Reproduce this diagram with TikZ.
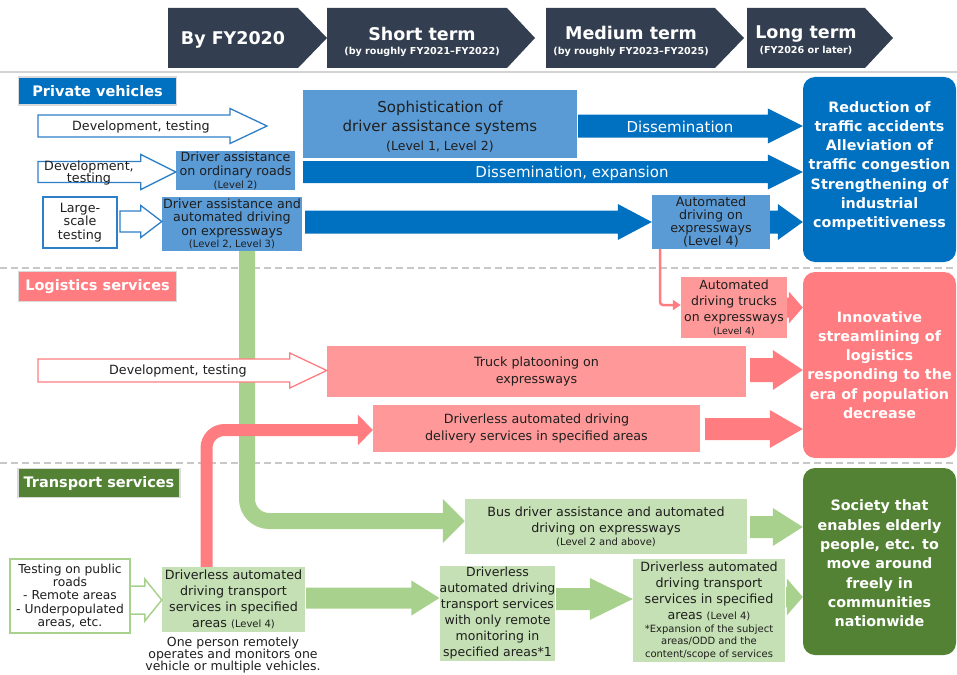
\documentclass[tikz,border=0pt]{standalone}
\usepackage{fontspec}
\setmainfont{DejaVu Sans}
\usetikzlibrary{calc,arrows.meta}

\definecolor{navy}{HTML}{333F50}
\definecolor{pvdark}{HTML}{0070C0}
\definecolor{pvmid}{HTML}{5B9BD5}
\definecolor{pvedge}{HTML}{2E7FC8}
\definecolor{lgdark}{HTML}{FF7C80}
\definecolor{lgmid}{HTML}{FF9999}
\definecolor{trdark}{HTML}{548235}
\definecolor{trmid}{HTML}{A9D18E}
\definecolor{trlight}{HTML}{C5E0B4}
\definecolor{ink}{HTML}{1E1E1E}
\definecolor{rulegray}{HTML}{C8C8C8}

\newcommand\fsz[2]{\fontsize{#1}{#2}\selectfont}

% horizontal block arrow: style, tail point, tip point (its x only),
% half body height, half head height, head length
\newcommand\blockarr[6]{%
  \path[#1] let \p1=(#2), \p2=(#3) in
    (\x1,\y1+#4pt) -- (\x2-#6pt,\y1+#4pt) -- (\x2-#6pt,\y1+#5pt) -- (\x2,\y1)
    -- (\x2-#6pt,\y1-#5pt) -- (\x2-#6pt,\y1-#4pt) -- (\x1,\y1-#4pt) -- cycle;}

\begin{document}
\begin{tikzpicture}[x=1pt,y=-1pt,
  hollowpv/.style={fill=white, draw=pvedge, line width=1.3pt},
  hollowlg/.style={fill=white, draw=lgdark, line width=1.3pt},
  hollowtr/.style={fill=white, draw=trmid, line width=1.5pt},
  solidpv/.style={fill=pvdark},
  solidlg/.style={fill=lgdark},
  solidtr/.style={fill=trmid},
  box/.style={rectangle, inner sep=0pt, align=center, text=ink},
  pvbox/.style={box, fill=pvmid},
  lgbox/.style={box, fill=lgmid},
  trbox/.style={box, fill=trlight},
  goal/.style={rectangle, rounded corners=12pt, inner sep=0pt},
  goaltext/.style={inner sep=0pt, align=center, text=white, font={\bfseries\fsz{14.3}{19.3}}},
  tag/.style={rectangle, inner sep=0pt, text=white, font={\bfseries\fsz{14.5}{16}},
    draw=rulegray!70, line width=1.5pt},
  phase/.style={text=white, anchor=base, inner sep=0pt, font={\bfseries\fsz{17.5}{20}}},
  phasesub/.style={text=white, anchor=base, inner sep=0pt, font={\bfseries\fsz{9.6}{11}}},
  sep/.style={draw=rulegray, line width=2.5pt, dash pattern=on 7pt off 4pt},
  arrtext/.style={text=ink, font={\fsz{12.7}{13.5}}, align=center, inner sep=0pt},
]
\useasboundingbox (0,0) rectangle (957,674);

% ---- timeline header ----
\fill[navy] (168,8) -- (298,8) -- (327,38) -- (298,68) -- (168,68) -- cycle;
\fill[navy] (327,8) -- (507,8) -- (535,38) -- (507,68) -- (327,68) -- cycle;
\fill[navy] (546,8) -- (715,8) -- (744,38) -- (715,68) -- (546,68) -- cycle;
\fill[navy] (747,8) -- (865,8) -- (893,38) -- (865,68) -- (747,68) -- cycle;
\node[phase] (h1) at (233,45) {By FY2020};
\node[phase] (h2) at (422,40.5) {Short term};
\node[phasesub] (h2s) at (422,55) {(by roughly FY2021–FY2022)};
\node[phase] (h3) at (631,40) {Medium term};
\node[phasesub] (h3s) at (631,55) {(by roughly FY2023–FY2025)};
\node[phase] (h4) at (806,39) {Long term};
\node[phasesub] (h4s) at (806,54) {(FY2026 or later)};
\draw[rulegray!80, line width=2.5pt] (0,72) -- (957,72);

% ---- section separators ----
\draw[sep] (0,268) -- (957,268);
\draw[sep] (0,463) -- (957,463);

% ---- goal boxes ----
\node[goal, fill=pvdark, minimum width=153pt, minimum height=185pt] (goalpv) at (879.5,169.5) {};
\node[goaltext] (goalpvtxt) at (879.5,166)
  {Reduction of\\traffic accidents\\Alleviation of\\traffic congestion\\Strengthening of\\industrial\\competitiveness};
\node[goal, fill=lgdark, minimum width=153pt, minimum height=186pt] (goallg) at (879.5,365) {};
\node[goaltext] (goallgtxt) at (879.5,365)
  {Innovative\\streamlining of\\logistics\\responding to the\\era of population\\decrease};
\node[goal, fill=trdark, minimum width=153pt, minimum height=187pt] (goaltr) at (879.5,561.5) {};
\node[goaltext] (goaltrtxt) at (879.5,563.5)
  {Society that\\enables elderly\\people, etc. to\\move around\\freely in\\communities\\nationwide};

% ---- section tags ----
\node[tag, fill=pvdark, minimum width=158pt, minimum height=28pt] (tagpv) at (97.5,91) {Private vehicles};
\node[tag, fill=lgdark, minimum width=158pt, minimum height=30pt] (taglg) at (97.5,286.5) {Logistics services};
\node[tag, fill=trdark, minimum width=162pt, minimum height=29pt] (tagtr) at (99,483) {Transport services};

% ---- boxes ----
\node[pvbox, minimum width=274pt, minimum height=68pt] (sophist) at (440,124) {};
\node[box, font={\fsz{15}{19}}] (sophisttxt) at (440,126.5)
  {Sophistication of\\driver assistance systems\\{\fsz{12.5}{15}(Level 1, Level 2)}};
\node[pvbox, minimum width=119pt, minimum height=39pt, font={\fsz{12.7}{14}}] (ordroads) at (235.5,170.5)
  {Driver assistance\\on ordinary roads\\[-1pt]{\fsz{10}{12}(Level 2)}};
\node[pvbox, minimum width=140pt, minimum height=54pt, font={\fsz{12.7}{13.5}}] (expway23) at (232,224)
  {Driver assistance and\\automated driving\\on expressways\\[-1pt]{\fsz{10}{12}(Level 2, Level 3)}};
\node[pvbox, minimum width=118pt, minimum height=54pt, font={\fsz{12.7}{12.8}}] (lv4) at (711,222)
  {Automated\\driving on\\expressways\\(Level 4)};
\node[box, fill=white, draw=pvedge, line width=1.3pt, minimum width=74pt, minimum height=51pt,
  font={\fsz{12.7}{13.5}}] (largescale) at (80,222.5) {Large-\\scale\\testing};

\node[lgbox, minimum width=106pt, minimum height=61pt, font={\fsz{12.5}{16}}] (trucks) at (734,307.5)
  {Automated\\driving trucks\\on expressways\\[-3pt]{\fsz{9.5}{11}(Level 4)}};
\node[lgbox, minimum width=419pt, minimum height=51pt, font={\fsz{12.7}{17}}] (platoon) at (536.5,371.5)
  {Truck platooning on\\expressways};
\node[lgbox, minimum width=327pt, minimum height=47pt, font={\fsz{12.7}{17}}] (delivery) at (536.5,428.5)
  {Driverless automated driving\\delivery services in specified areas};

\node[trbox, minimum width=282pt, minimum height=55pt, font={\fsz{12.7}{16.5}}] (bus) at (606,526.5)
  {Bus driver assistance and automated\\driving on expressways\\[-4pt]{\fsz{10}{11}(Level 2 and above)}};

% ---- thick flow lines (drawn before the hollow arrow that covers them) ----
\draw[trmid, line width=16pt, rounded corners=22pt, -{Triangle[length=22pt,width=43pt]}]
  ($(expway23.south)+(15,0)$) |- ($(bus.west)+(0,-5.5)$);

% ---- private vehicle arrows ----
\coordinate (pv1tail) at (38,126);
\coordinate (pv1tip) at (267,126);
\blockarr{hollowpv}{pv1tail}{pv1tip}{11}{17.5}{37}
\node[arrtext] (pv1txt) at (141,127) {Development, testing};

\coordinate (pv2tail) at (38,172);
\blockarr{hollowpv}{pv2tail}{ordroads.west}{10.5}{17.5}{35}
\node[arrtext] (pv2txt) at (89,172.5) {Development,\\[-1.5pt]testing};

\coordinate (pv3tail) at (120,221.5);
\blockarr{hollowpv}{pv3tail}{expway23.west}{10.5}{16}{21}

\coordinate (dtail) at (578,126);
\blockarr{solidpv}{dtail}{goalpv.west}{11.5}{17.5}{35}
\node[arrtext, text=white, font={\fsz{15}{17}}] (dtxt) at (680,127) {Dissemination};

\coordinate (detail) at (303,172);
\blockarr{solidpv}{detail}{goalpv.west}{11}{17.5}{35}
\node[arrtext, text=white, font={\fsz{15}{17}}] (detxt) at (572,173) {Dissemination, expansion};

\coordinate (ewtail) at (305,222);
\blockarr{solidpv}{ewtail}{lv4.west}{11.5}{18}{34}
\blockarr{solidpv}{lv4.east}{goalpv.west}{11.5}{18}{25}

% ---- logistics arrows ----
\draw[lgdark, line width=2.5pt, rounded corners=3pt, -{Triangle[length=8pt,width=10pt]}]
  ($(lv4.south)+(-51,0)$) |- ($(trucks.west)+(0,-2.5)$);
\blockarr{solidlg}{trucks.east}{goallg.west}{10}{16}{14}

\coordinate (lgtail) at (38,370.5);
\blockarr{hollowlg}{lgtail}{platoon.west}{11.5}{17.5}{37}
\node[arrtext] (lgtxt) at (178,371) {Development, testing};

\coordinate (pltail) at (750,370);
\blockarr{solidlg}{pltail}{goallg.west}{12}{20}{30}
\coordinate (dltail) at (705,429);
\blockarr{solidlg}{dltail}{goallg.west}{11}{19}{33}

% ---- transport boxes ----
\node[trbox, minimum width=143pt, minimum height=65pt, font={\fsz{12.7}{16}}] (drv1) at (233.5,599.5)
  {Driverless automated\\driving transport\\services in specified\\areas {\fsz{10}{12}(Level 4)}};
\node[trbox, minimum width=115pt, minimum height=95pt, font={\fsz{12.5}{16}}] (drv2) at (497.5,613.5)
  {Driverless\\automated driving\\transport services\\with only remote\\monitoring in\\specified areas*1};
\node[trbox, minimum width=152pt, minimum height=103pt, font={\fsz{12.7}{16}}] (drv3) at (709,610.5)
  {Driverless automated\\driving transport\\services in specified\\areas {\fsz{10}{12}(Level 4)}\\[-3pt]
   {\fsz{10}{12}*Expansion of the subject}\\[-3.5pt]
   {\fsz{10}{12}areas/ODD and the}\\[-3.5pt]
   {\fsz{10}{12}content/scope of services}};
\node[arrtext, anchor=north, font={\fsz{12.5}{12.5}}] (drv1note) at (233,636.5)
  {One person remotely\\[-0.5pt]operates and monitors one\\[-0.5pt]vehicle or multiple vehicles.};

% red flow from the transport service up to delivery
\draw[lgdark, line width=12pt, rounded corners=18pt, -{Triangle[length=15pt,width=30pt]}]
  ($(drv1.north)+(-27,0)$) |- ($(delivery.west)+(0,1.5)$);

% ---- transport arrows ----
\coordinate (bustail) at (750,527);
\blockarr{solidtr}{bustail}{goaltr.west}{11}{19}{30}

\coordinate (tttail) at (130,600);
\blockarr{hollowtr}{tttail}{drv1.west}{14}{21}{17}
\node[box, fill=white, draw=trmid, line width=1.5pt, minimum width=120pt, minimum height=74pt,
  font={\fsz{12.3}{13.2}}] (testbox) at (70,596)
  {Testing on public\\roads\\- Remote areas\\- Underpopulated\\areas, etc.};

\coordinate (d1tail) at (306,598);
\blockarr{solidtr}{d1tail}{drv2.west}{10.5}{17.5}{28}
\coordinate (d2tail) at (556,599);
\blockarr{solidtr}{d2tail}{drv3.west}{11}{21}{43}
\coordinate (d3tail) at (786,597);
\blockarr{solidtr}{d3tail}{goaltr.west}{10}{18.5}{16}

\end{tikzpicture}
\end{document}
